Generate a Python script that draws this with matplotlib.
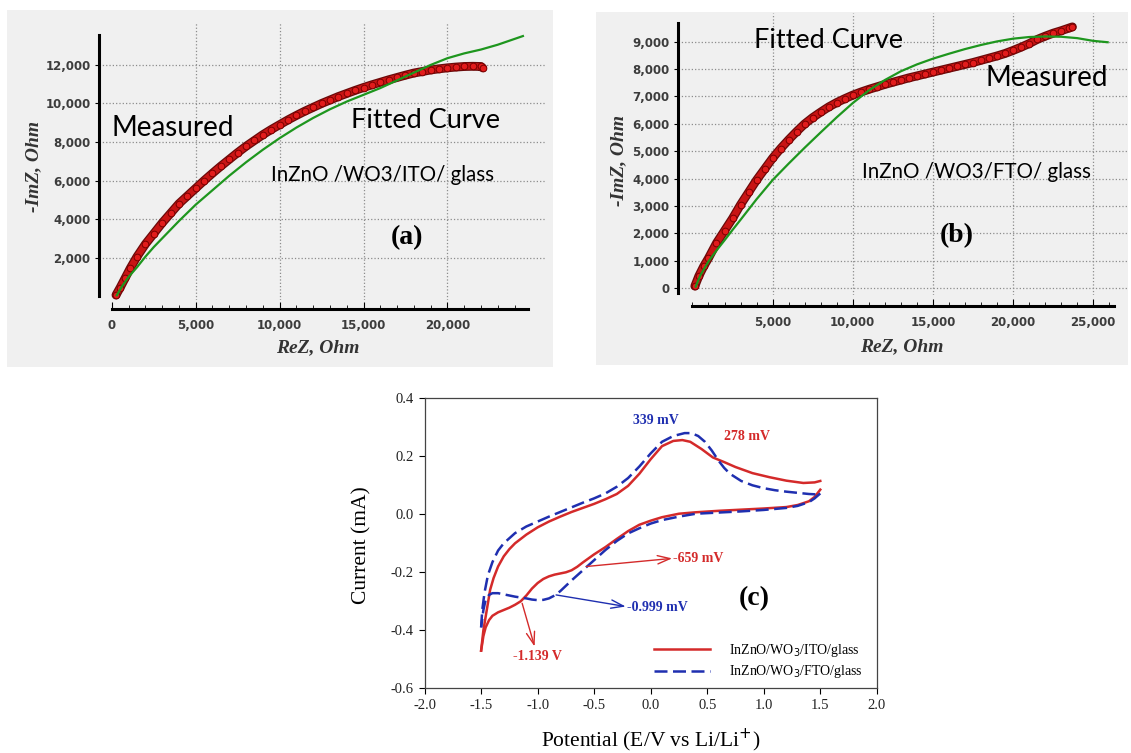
import matplotlib
matplotlib.use("Agg")
import matplotlib.pyplot as plt
import matplotlib.patheffects as pe
from matplotlib.patches import Rectangle

W, H = 1131, 753

# ---- panel (a): InZnO/WO3/ITO/glass impedance ----
a_meas_x = [250, 500, 800, 1100, 1500, 2000, 2500, 3000, 3500, 4000, 4500, 5000, 5500, 6000,
            6500, 7000, 7500, 8000, 8500, 9000, 9500, 10000, 10500, 11000, 11500, 12000, 12500,
            13000, 13500, 14000, 14500, 15000, 15500, 16000, 16500, 17000, 17500, 18000, 18500,
            19000, 19500, 20000, 20500, 21000, 21500, 22000, 22100]
a_meas_y = [60, 450, 950, 1450, 2050, 2700, 3250, 3800, 4300, 4800, 5200, 5600, 6000, 6380,
            6750, 7100, 7450, 7780, 8080, 8380, 8650, 8900, 9150, 9380, 9600, 9800, 10000,
            10180, 10360, 10520, 10680, 10830, 10970, 11100, 11230, 11350, 11470, 11580, 11660,
            11740, 11800, 11850, 11890, 11920, 11930, 11920, 11850]
a_fit_x = [300, 600, 1000, 1500, 2000, 2500, 3000, 4000, 5000, 6000, 7000, 8000, 9000, 10000,
           11000, 12000, 13000, 14000, 15000, 16000, 17000, 18000, 19000, 20000, 21000, 22000,
           23000, 24000, 24500]
a_fit_y = [50, 500, 1000, 1500, 2050, 2550, 3000, 3900, 4750, 5500, 6250, 6950, 7600, 8200,
           8750, 9250, 9700, 10100, 10450, 10800, 11200, 11600, 12000, 12350, 12600, 12800,
           13050, 13350, 13500]
a_xticks = [0, 5000, 10000, 15000, 20000]
a_xlabels = ["0", "5,000", "10,000", "15,000", "20,000"]
a_yticks = [2000, 4000, 6000, 8000, 10000, 12000]
a_ylabels = ["2,000", "4,000", "6,000", "8,000", "10,000", "12,000"]

# ---- panel (b): InZnO/WO3/FTO/glass impedance ----
b_meas_x = [150, 400, 700, 1000, 1500, 2000, 2500, 3000, 3500, 4000, 4500, 5000, 5500, 6000,
            6500, 7000, 7500, 8000, 8500, 9000, 9500, 10000, 10500, 11000, 11500, 12000, 12500,
            13000, 13500, 14000, 14500, 15000, 15500, 16000, 16500, 17000, 17500, 18000, 18500,
            19000, 19500, 20000, 20500, 21000, 21500, 22000, 22500, 23000, 23500, 23700]
b_meas_y = [80, 450, 800, 1100, 1650, 2100, 2550, 3050, 3500, 3950, 4350, 4750, 5100, 5420,
            5720, 6000, 6230, 6430, 6620, 6780, 6920, 7050, 7160, 7260, 7350, 7440, 7520,
            7600, 7680, 7750, 7820, 7890, 7960, 8030, 8100, 8170, 8240, 8320, 8400,
            8480, 8570, 8680, 8800, 8930, 9080, 9200, 9310, 9400, 9500, 9540]
b_fit_x = [200, 500, 1000, 1500, 2000, 2500, 3000, 4000, 5000, 6000, 7000, 8000, 9000, 10000,
           11000, 12000, 13000, 14000, 15000, 16000, 17000, 18000, 19000, 20000, 21000, 22000,
           23000, 24000, 25000, 25900]
b_fit_y = [60, 480, 980, 1380, 1750, 2130, 2500, 3250, 3950, 4550, 5130, 5690, 6240, 6760,
           7220, 7600, 7920, 8170, 8380, 8560, 8730, 8880, 9010, 9110, 9170, 9190,
           9180, 9130, 9030, 8980]
b_xticks = [5000, 10000, 15000, 20000, 25000]
b_xlabels = ["5,000", "10,000", "15,000", "20,000", "25,000"]
b_yticks = [0, 1000, 2000, 3000, 4000, 5000, 6000, 7000, 8000, 9000]
b_ylabels = ["0", "1,000", "2,000", "3,000", "4,000", "5,000", "6,000", "7,000", "8,000", "9,000"]

# ---- panel (c): cyclic voltammetry ----
ito_up_x = [-1.5, -1.48, -1.45, -1.42, -1.39, -1.35, -1.3, -1.25, -1.2, -1.1, -1.0, -0.9, -0.8,
            -0.7, -0.6, -0.5, -0.4, -0.3, -0.2, -0.1, 0.0, 0.1, 0.2, 0.28, 0.35, 0.45, 0.55,
            0.65, 0.75, 0.9, 1.05, 1.2, 1.35, 1.45, 1.5]
ito_up_y = [-0.47, -0.40, -0.33, -0.26, -0.22, -0.18, -0.145, -0.12, -0.10, -0.07, -0.045,
            -0.025, -0.008, 0.008, 0.022, 0.036, 0.052, 0.07, 0.098, 0.14, 0.19, 0.235, 0.253,
            0.256, 0.25, 0.225, 0.196, 0.18, 0.163, 0.142, 0.128, 0.116, 0.108, 0.11, 0.115]
ito_dn_x = [1.5, 1.45, 1.4, 1.3, 1.2, 1.0, 0.8, 0.6, 0.4, 0.25, 0.1, 0.0, -0.1, -0.2, -0.3,
            -0.4, -0.5, -0.55, -0.6, -0.65, -0.7, -0.75, -0.8, -0.85, -0.9, -0.95, -1.0, -1.05,
            -1.1, -1.15, -1.2, -1.25, -1.3, -1.35, -1.4, -1.43, -1.46, -1.48, -1.5]
ito_dn_y = [0.085, 0.06, 0.045, 0.032, 0.025, 0.02, 0.016, 0.012, 0.007, 0.002, -0.01, -0.022,
            -0.036, -0.058, -0.085, -0.113, -0.138, -0.152, -0.166, -0.181, -0.193, -0.2,
            -0.204, -0.208, -0.214, -0.223, -0.237, -0.256, -0.28, -0.3, -0.312, -0.322, -0.33,
            -0.338, -0.35, -0.365, -0.39, -0.42, -0.47]
fto_up_x = [-1.5, -1.49, -1.47, -1.44, -1.4, -1.35, -1.3, -1.2, -1.1, -1.0, -0.9, -0.8, -0.7,
            -0.6, -0.5, -0.4, -0.3, -0.2, -0.1, 0.0, 0.1, 0.2, 0.3, 0.36, 0.42, 0.48, 0.54, 0.6,
            0.65, 0.7, 0.8, 0.9, 1.0, 1.1, 1.2, 1.3, 1.4, 1.5]
fto_up_y = [-0.39, -0.33, -0.27, -0.21, -0.165, -0.125, -0.1, -0.065, -0.042, -0.025, -0.008,
            0.008, 0.024, 0.04, 0.055, 0.072, 0.095, 0.125, 0.165, 0.21, 0.25, 0.27, 0.28,
            0.28, 0.27, 0.25, 0.22, 0.185, 0.16, 0.14, 0.115, 0.1, 0.09, 0.083, 0.078, 0.074,
            0.07, 0.068]
fto_dn_x = [1.5, 1.45, 1.4, 1.3, 1.2, 1.0, 0.8, 0.6, 0.4, 0.25, 0.1, 0.0, -0.1, -0.2, -0.3,
            -0.4, -0.5, -0.6, -0.7, -0.8, -0.85, -0.9, -0.95, -1.0, -1.05, -1.1, -1.2, -1.3,
            -1.35, -1.4, -1.43, -1.46, -1.48, -1.5]
fto_dn_y = [0.072, 0.055, 0.042, 0.029, 0.022, 0.015, 0.01, 0.006, 0.002, -0.008, -0.02,
            -0.032, -0.048, -0.066, -0.092, -0.123, -0.158, -0.193, -0.228, -0.265, -0.28,
            -0.29, -0.295, -0.296, -0.294, -0.29, -0.284, -0.276, -0.272, -0.272, -0.278,
            -0.295, -0.33, -0.39]
c_xticks = [-2.0, -1.5, -1.0, -0.5, 0.0, 0.5, 1.0, 1.5, 2.0]
c_yticks = [-0.6, -0.4, -0.2, 0.0, 0.2, 0.4]

RED = "#d42a2a"
BLUE = "#1f2fb0"
sans = ["Lato", "DejaVu Sans"]
serif = ["Liberation Serif", "DejaVu Serif"]


def px_box(l, t, r, b):
    return [l / W, 1 - b / H, (r - l) / W, (b - t) / H]


def fx(x):
    return x / W


def fy(y):
    return 1 - y / H


def impedance_panel(fig, rect, mx, my, gx, gy, xlim, ylim, xticks, xlabels, yticks, ylabels,
                    xbound, ybound, drop, hide_first_xgrid):
    ax = fig.add_axes(rect)
    ax.set_facecolor("none")
    ax.set_xlim(*xlim)
    ax.set_ylim(*ylim)
    for s in ["top", "right"]:
        ax.spines[s].set_visible(False)
    ax.spines["left"].set_linewidth(2.2)
    ax.spines["bottom"].set_linewidth(2.2)
    ax.spines["left"].set_bounds(*ybound)
    ax.spines["bottom"].set_bounds(*xbound)
    ax.spines["bottom"].set_position(("outward", drop))
    ax.set_xticks(xticks)
    ax.set_xticklabels(xlabels)
    ax.set_yticks(yticks)
    ax.set_yticklabels(ylabels)
    ax.set_xticks(range(0, int(xbound[1]) + 1, 1000), minor=True)
    ax.tick_params(axis="x", which="major", direction="in", length=5, width=0.8, pad=7,
                   labelsize=8.5, labelcolor="#3c3c3c")
    ax.tick_params(axis="x", which="minor", direction="in", length=3, width=0.6)
    ax.tick_params(axis="y", which="major", direction="out", length=3, width=0.8, pad=3,
                   labelsize=8.5, labelcolor="#3c3c3c")
    for lab in ax.get_xticklabels() + ax.get_yticklabels():
        lab.set_fontweight("bold")
    ax.grid(True, which="major", ls=":", color="#8c8c8c", lw=0.9)
    if hide_first_xgrid:
        ax.xaxis.get_gridlines()[0].set_visible(False)

    ax.plot(mx, my, color="#c81414", lw=4.6, solid_capstyle="round", zorder=3,
            path_effects=[pe.Stroke(linewidth=6.4, foreground="#6a0a0a"), pe.Normal()])
    ax.plot(mx, my, "o", ms=4.8, mfc="#e21c1c", mec="#7a0000", mew=0.7, zorder=4)
    ax.plot(gx, gy, color="#1e961e", lw=1.6, zorder=5)
    return ax


fig = plt.figure(figsize=(W / 100, H / 100), dpi=100)
fig.patch.set_facecolor("white")

# grey panel backgrounds
fig.add_artist(Rectangle((fx(7), fy(367)), (553 - 7) / W, (367 - 10) / H,
                         transform=fig.transFigure, facecolor="#f0f0f0", edgecolor="none", zorder=0))
fig.add_artist(Rectangle((fx(596), fy(365)), (1128 - 596) / W, (365 - 12) / H,
                         transform=fig.transFigure, facecolor="#f0f0f0", edgecolor="none", zorder=0))

ax_a = impedance_panel(fig, px_box(99, 22, 545, 300), a_meas_x, a_meas_y, a_fit_x, a_fit_y,
                       (-763, 25816), (-197, 14229), a_xticks, a_xlabels, a_yticks, a_ylabels,
                       (0, 24800), (0, 13555), 6.7, True)
ax_b = impedance_panel(fig, px_box(678, 13, 1128, 295), b_meas_x, b_meas_y, b_fit_x, b_fit_y,
                       (-901, 27170), (-245, 10047), b_xticks, b_xlabels, b_yticks, b_ylabels,
                       (0, 26300), (-160, 9672), 7.9, False)

# panel (a) texts
fig.text(fx(111), fy(128), "Measured", family=sans, fontsize=20, va="center", ha="left")
fig.text(fx(351), fy(121), "Fitted Curve", family=sans, fontsize=19.5, va="center", ha="left")
fig.text(fx(271), fy(175), "InZnO /WO3/ITO/ glass", family=sans, fontsize=14.8, va="center", ha="left")
fig.text(fx(407), fy(238), "(a)", family=serif, fontsize=20, weight="bold", va="center", ha="center")
fig.text(fx(318), fy(348), "ReZ, Ohm", family=serif, fontsize=14, weight="bold", style="italic",
         va="center", ha="center", color="#333333")
fig.text(fx(34), fy(167), "-ImZ, Ohm", family=serif, fontsize=14, weight="bold", style="italic",
         va="center", ha="center", rotation=90, color="#333333")

# panel (b) texts
fig.text(fx(754), fy(40), "Fitted Curve", family=sans, fontsize=19.5, va="center", ha="left")
fig.text(fx(985), fy(78), "Measured", family=sans, fontsize=20, va="center", ha="left")
fig.text(fx(862), fy(172), "InZnO /WO3/FTO/ glass", family=sans, fontsize=14.8, va="center", ha="left")
fig.text(fx(957), fy(236), "(b)", family=serif, fontsize=20, weight="bold", va="center", ha="center")
fig.text(fx(902), fy(347), "ReZ, Ohm", family=serif, fontsize=14, weight="bold", style="italic",
         va="center", ha="center", color="#333333")
fig.text(fx(619), fy(160), "-ImZ, Ohm", family=serif, fontsize=14, weight="bold", style="italic",
         va="center", ha="center", rotation=90, color="#333333")

# ---- panel (c) ----
ax_c = fig.add_axes(px_box(424.6, 398.3, 876.8, 688.3))
ax_c.set_xlim(-2.0, 2.0)
ax_c.set_ylim(-0.6, 0.4)
ax_c.set_xticks(c_xticks)
ax_c.set_yticks(c_yticks)
ax_c.set_xticklabels(["%.1f" % v for v in c_xticks], family=serif, fontsize=10.5)
ax_c.set_yticklabels(["%.1f" % v for v in c_yticks], family=serif, fontsize=10.5)
ax_c.tick_params(axis="both", direction="out", length=4, width=0.8, pad=4, labelcolor="#222222")
for s in ax_c.spines.values():
    s.set_linewidth(0.9)
    s.set_color("#444444")

ax_c.plot(ito_up_x, ito_up_y, color=RED, lw=1.8, label="InZnO/WO$_3$/ITO/glass")
ax_c.plot(ito_dn_x, ito_dn_y, color=RED, lw=1.8)
ax_c.plot(fto_up_x, fto_up_y, color=BLUE, lw=1.8, dashes=(5.2, 2.2), label="InZnO/WO$_3$/FTO/glass")
ax_c.plot(fto_dn_x, fto_dn_y, color=BLUE, lw=1.8, dashes=(5.2, 2.2))
ax_c.legend(loc="upper left", bbox_to_anchor=(0.495, 0.178), frameon=False, handlelength=4.0,
            handletextpad=1.4, labelspacing=0.3, borderaxespad=0,
            prop={"family": serif, "size": 10})

ax_c.text(0.047, 0.325, "339 mV", color=BLUE, family=serif, fontsize=10, weight="bold",
          ha="center", va="center")
ax_c.text(0.85, 0.267, "278 mV", color=RED, family=serif, fontsize=10, weight="bold",
          ha="center", va="center")
ax_c.text(0.2, -0.151, "-659 mV", color=RED, family=serif, fontsize=10, weight="bold",
          ha="left", va="center")
ax_c.text(-0.21, -0.32, "-0.999 mV", color=BLUE, family=serif, fontsize=10, weight="bold",
          ha="left", va="center")
ax_c.text(-1.22, -0.492, "-1.139 V", color=RED, family=serif, fontsize=10, weight="bold",
          ha="left", va="center")
ax_c.text(0.914, -0.289, "(c)", family=serif, fontsize=20, weight="bold", ha="center", va="center")

arrow = "->, head_length=0.9, head_width=0.3"
ax_c.annotate("", xy=(0.19, -0.152), xytext=(-0.569, -0.18),
              arrowprops=dict(arrowstyle=arrow, color=RED, lw=1.0, shrinkA=0, shrinkB=0))
ax_c.annotate("", xy=(-0.221, -0.318), xytext=(-0.837, -0.278),
              arrowprops=dict(arrowstyle=arrow, color=BLUE, lw=1.0, shrinkA=0, shrinkB=0))
ax_c.annotate("", xy=(-1.027, -0.456), xytext=(-1.137, -0.307),
              arrowprops=dict(arrowstyle=arrow, color=RED, lw=1.0, shrinkA=0, shrinkB=0))

fig.text(fx(362), fy(545), "Current (mA)", family=serif, fontsize=15.5, rotation=90,
         ha="center", va="center")
fig.text(fx(651), fy(740), "Potential (E/V vs Li/Li$^{+}$)", family=serif, fontsize=15.5,
         ha="center", va="center")

fig.savefig("out.png", dpi=100)
